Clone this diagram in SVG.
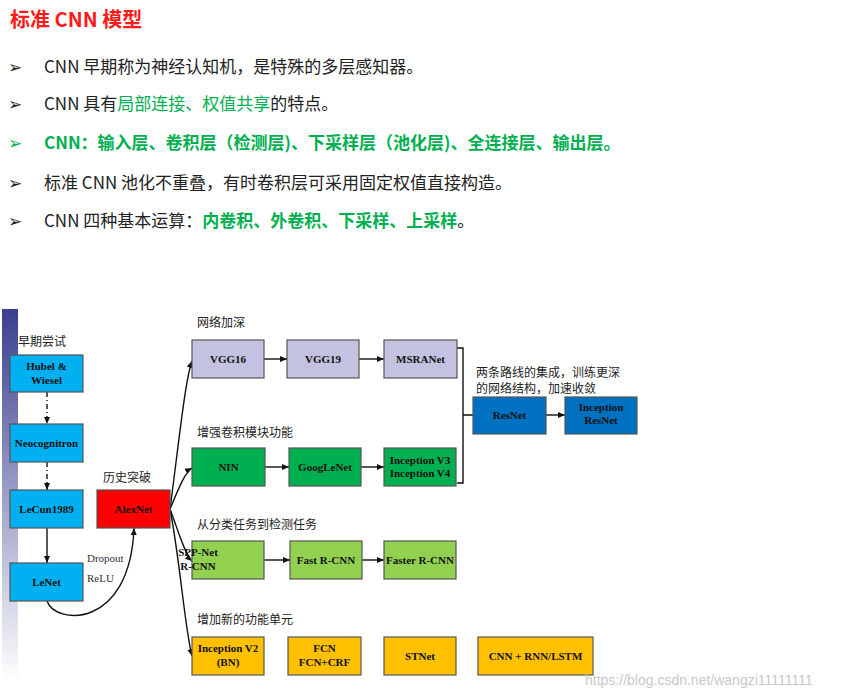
<svg xmlns="http://www.w3.org/2000/svg" width="860" height="696" viewBox="0 0 860 696">
<style>
.t{font-family:"Noto Sans CJK SC","Noto Sans",sans-serif;font-size:17px;fill:#222}
.g{fill:#00B050}
.b{font-family:"Liberation Serif","Noto Sans CJK SC",serif;font-size:11px;font-weight:bold;fill:#111;text-anchor:middle}
.l{font-family:"Noto Sans CJK SC",sans-serif;font-size:12px;fill:#222}
.n rect{stroke:#555;stroke-width:1.2}
.c{fill:none;stroke:#111;stroke-width:1.4}
</style>
<defs>
<marker id="a" markerWidth="8" markerHeight="8" refX="7" refY="4" orient="auto" markerUnits="userSpaceOnUse"><path d="M0,1L7,4L0,7z" fill="#111"/></marker>
<linearGradient id="bar" x1="0" y1="0" x2="0" y2="1"><stop offset="0" stop-color="#3a3f8f"/><stop offset="1" stop-color="#ffffff"/></linearGradient>
<linearGradient id="barh" x1="0" y1="0" x2="1" y2="0"><stop offset="0" stop-color="#ffffff" stop-opacity="0"/><stop offset="1" stop-color="#ffffff" stop-opacity="0.6"/></linearGradient>
</defs>
<rect width="860" height="696" fill="#fff"/>
<text x="10" y="27" font-family="Noto Sans CJK SC,sans-serif" font-size="20" font-weight="bold" fill="#ff1a1a">标准 CNN 模型</text>
<g class="t">
<text x="8" y="73">➢</text><text x="44" y="73">CNN 早期称为神经认知机，是特殊的多层感知器。</text>
<text x="8" y="110">➢</text><text x="44" y="110">CNN 具有<tspan class="g">局部连接、权值共享</tspan>的特点。</text>
<text x="8" y="149" class="g">➢</text><text x="44" y="149" class="g" font-weight="bold">CNN：输入层、卷积层（检测层)、下采样层（池化层)、全连接层、输出层。</text>
<text x="8" y="189">➢</text><text x="44" y="189">标准 CNN 池化不重叠，有时卷积层可采用固定权值直接构造。</text>
<text x="8" y="227">➢</text><text x="44" y="227">CNN 四种基本运算：<tspan class="g" font-weight="bold">内卷积、外卷积、下采样、上采样</tspan>。</text>
</g>
<rect x="2" y="309" width="16" height="372" fill="url(#bar)"/>
<g class="l">
<text x="18" y="346">早期尝试</text>
<text x="103" y="482">历史突破</text>
<text x="197" y="327">网络加深</text>
<text x="197" y="437">增强卷积模块功能</text>
<text x="197" y="529">从分类任务到检测任务</text>
<text x="197" y="624">增加新的功能单元</text>
<text x="476" y="377">两条路线的集成，训练更深</text>
<text x="476" y="393">的网络结构，加速收敛</text>
</g>
<text x="87" y="562" font-family="Liberation Serif,serif" font-size="11" fill="#333">Dropout</text>
<text x="87" y="582" font-family="Liberation Serif,serif" font-size="11" fill="#333">ReLU</text>
<g id="connectors">
<path class="c" d="M47,392V424" stroke-dasharray="5,3,1,3" marker-end="url(#a)"/>
<path class="c" d="M47,462V490" stroke-dasharray="5,3,1,3" marker-end="url(#a)"/>
<path class="c" d="M47,528V563" marker-end="url(#a)"/>
<path class="c" d="M47,601C55,625 130,630 134,528" marker-end="url(#a)"/>
<path class="c" d="M170,509C178,450 185,380 192,361" marker-end="url(#a)"/>
<path class="c" d="M170,509C178,490 185,472 192,468" marker-end="url(#a)"/>
<path class="c" d="M170,509C178,530 185,555 192,561" marker-end="url(#a)"/>
<path class="c" d="M170,509C180,560 185,630 192,656" marker-end="url(#a)"/>
<path class="c" d="M264,359H287" marker-end="url(#a)"/>
<path class="c" d="M359,359H384" marker-end="url(#a)"/>
<path class="c" d="M265,467H289" marker-end="url(#a)"/>
<path class="c" d="M361,467H384" marker-end="url(#a)"/>
<path class="c" d="M264,560H290" marker-end="url(#a)"/>
<path class="c" d="M362,560H384" marker-end="url(#a)"/>
<path class="c" d="M457,348H463V483H457M463,415H473"/>
<path class="c" d="M546,415H565" marker-end="url(#a)"/>
</g>
<g id="hubel" class="n"><rect x="10" y="355" width="73" height="37" fill="#00B0F0"/><text class="b" x="46.5" y="370">Hubel &amp;</text><text class="b" x="46.5" y="384">Wiesel</text></g>
<g id="neocognitron" class="n"><rect x="10" y="424" width="73" height="38" fill="#00B0F0"/><text class="b" x="46.5" y="447">Neocognitron</text></g>
<g id="lecun" class="n"><rect x="10" y="490" width="73" height="38" fill="#00B0F0"/><text class="b" x="46.5" y="513">LeCun1989</text></g>
<g id="lenet" class="n"><rect x="10" y="563" width="73" height="38" fill="#00B0F0"/><text class="b" x="46.5" y="586">LeNet</text></g>
<g id="alexnet" class="n"><rect x="97" y="490" width="73" height="38" fill="#FF0000"/><text class="b" x="133.5" y="513">AlexNet</text></g>
<g id="vgg16" class="n"><rect x="192" y="340" width="72" height="38" fill="#C3C2E0"/><text class="b" x="228" y="363">VGG16</text></g>
<g id="vgg19" class="n"><rect x="287" y="340" width="72" height="38" fill="#C3C2E0"/><text class="b" x="323" y="363">VGG19</text></g>
<g id="msranet" class="n"><rect x="384" y="340" width="73" height="38" fill="#C3C2E0"/><text class="b" x="420.5" y="363">MSRANet</text></g>
<g id="nin" class="n"><rect x="192" y="448" width="73" height="38" fill="#00B050"/><text class="b" x="228.5" y="471">NIN</text></g>
<g id="googlenet" class="n"><rect x="289" y="448" width="72" height="38" fill="#00B050"/><text class="b" x="325" y="471">GoogLeNet</text></g>
<g id="inceptionv3" class="n"><rect x="384" y="448" width="72" height="38" fill="#00B050"/><text class="b" x="420" y="464">Inception V3</text><text class="b" x="420" y="477">Inception V4</text></g>
<g id="resnet" class="n"><rect x="473" y="397" width="73" height="37" fill="#0070C0"/><text class="b" x="509.5" y="419">ResNet</text></g>
<g id="incresnet" class="n"><rect x="565" y="397" width="72" height="37" fill="#0070C0"/><text class="b" x="601" y="411">Inception</text><text class="b" x="601" y="424">ResNet</text></g>
<g id="sppnet" class="n"><rect x="192" y="541" width="72" height="38" fill="#92D050"/><text class="b" x="198" y="556" text-anchor="start">SPP-Net</text><text class="b" x="198" y="570" text-anchor="start">R-CNN</text></g>
<g id="fastrcnn" class="n"><rect x="290" y="541" width="72" height="38" fill="#92D050"/><text class="b" x="326" y="564">Fast R-CNN</text></g>
<g id="fasterrcnn" class="n"><rect x="384" y="541" width="72" height="38" fill="#92D050"/><text class="b" x="420" y="564">Faster R-CNN</text></g>
<g id="inceptionv2" class="n"><rect x="192" y="637" width="72" height="38" fill="#FFC000"/><text class="b" x="228" y="652">Inception V2</text><text class="b" x="228" y="666">(BN)</text></g>
<g id="fcn" class="n"><rect x="288" y="637" width="73" height="38" fill="#FFC000"/><text class="b" x="324.5" y="652">FCN</text><text class="b" x="324.5" y="666">FCN+CRF</text></g>
<g id="stnet" class="n"><rect x="384" y="637" width="72" height="38" fill="#FFC000"/><text class="b" x="420" y="660">STNet</text></g>
<g id="cnnrnn" class="n"><rect x="478" y="637" width="115" height="38" fill="#FFC000"/><text class="b" x="535.5" y="660">CNN + RNN/LSTM</text></g>
<text x="585" y="685" font-family="Liberation Sans,sans-serif" font-size="14" fill="#c8c8c8">https://blog.csdn.net/wangzi11111111</text>
</svg>
